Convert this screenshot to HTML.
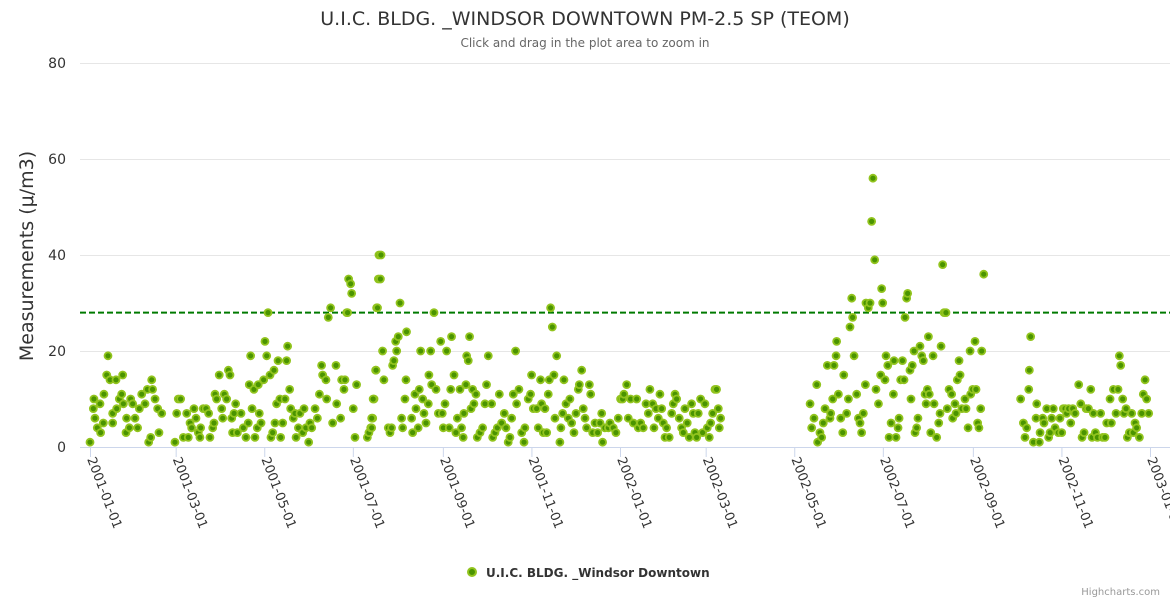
<!DOCTYPE html>
<html><head><meta charset="utf-8"><style>
body{margin:0;background:#fff;width:1170px;height:600px;overflow:hidden;font-family:"DejaVu Sans","Liberation Sans",sans-serif}
</style></head><body>
<svg id="chart" width="1170" height="600" xmlns="http://www.w3.org/2000/svg" font-family="DejaVu Sans, Liberation Sans, sans-serif">
<text x="585" y="25" text-anchor="middle" font-size="19" fill="#333">U.I.C. BLDG. _WINDSOR DOWNTOWN PM-2.5 SP (TEOM)</text>
<text x="585" y="47" text-anchor="middle" font-size="12" fill="#666">Click and drag in the plot area to zoom in</text>
<g id="grid"></g>
<g id="yticks"></g>
<text transform="translate(33,256) rotate(-90)" text-anchor="middle" font-size="19" fill="#333">Measurements (μ/m3)</text>
<line x1="80" y1="447.5" x2="1170" y2="447.5" stroke="#ccd6eb" stroke-width="1"/>
<g id="xticks"></g>
<line id="threshold" stroke="#007a00" stroke-width="2" stroke-dasharray="6,3"/>
<g id="points"></g>
<g>
<circle cx="472" cy="572" r="4" fill="#4a9400" stroke="#92c41e" stroke-width="2"/>
<text x="486" y="577" font-size="12" font-weight="bold" fill="#333">U.I.C. BLDG. _Windsor Downtown</text>
</g>
<text x="1160" y="595" text-anchor="end" font-size="10" fill="#999">Highcharts.com</text>
</svg>
<script>
// days since 2001-01-01
const days = [0,2.3,2.7,3.4,5,6.9,7.3,9.2,9.6,11.5,12.4,13.8,15.6,15.6,17.9,18.4,20.2,21.8,22.5,23,24.8,25.2,27.1,28,29.4,31,32.8,34,35.6,37.9,39.5,40.4,41.8,42.5,43.1,44.8,46.6,47.5,49.4,
58.5,59.7,60.8,62.4,64.3,66.6,67.7,68.9,70,71.6,73,74.6,75.7,76.2,78,79.9,81.7,82.6,84.5,85.4,86.1,87.2,89,90.7,91.4,92.5,94.1,95.3,96.4,97.6,98.2,99.2,100.3,101.5,104,105.6,107.4,109,109.7,110.6,111.6,112.9,113.6,115.2,115.9,116.6,117.8,119.6,120.5,121.7,122.6,124,124.6,125.8,126.7,127.4,128.5,129.5,130.8,131.3,132.7,134.3,135.4,136.1,137.5,138.2,140,141.2,141.9,143.5,144.6,146.5,147.4,148.7,150.6,151.5,152.7,155,156.6,158,159.5,160.2,162.5,163,164.1,165.7,167.1,169.4,169.9,172.6,173.3,174.9,175.6,176.8,177.4,178.1,179.5,180.2,181.3,182.5,183.6,191,192.1,193.3,194.7,195.6,196.7,197.4,198.6,199,
194,194,195,197,198,200,200.4,201.5,202.4,205.4,206.6,207.7,208.4,209.3,210.5,211.2,212.3,213.5,215.3,214.6,216.9,217.6,218,221.5,222.2,223.8,224.5,226,226.8,227.7,229.1,230,231.4,233,233.4,234.6,235.3,236.9,238.3,239.9,241.5,242.6,243.3,244.5,245.6,247.4,248.4,249,250.7,252,253,254.8,255.9,257,257.5,258.9,259.4,260.5,261.4,262.4,263.5,264.4,265.8,266.7,268.6,270.4,272,273.1,274.3,276.6,277.3,278.9,280.5,281.9,283.5,285.3,286.5,288,289.2,290.4,291.5,293.1,293.8,295.4,297.3,298.9,299.5,301.8,303.4,304.1,305.3,307.6,308.7,310.3,311,312.2,313.3,314.5,315.6,316.3,317.2,318.4,319.5,320.2,321.4,323.6,324.3,325.5,326.4,327.8,329.4,330.5,331.7,333.3,334.7,336.3,337,338.6,339.7,340.9,342,343.9,344.8,346.2,347.8,349.6,351.2,352.4,353,354.6,357,358.1,360.4,362.2,363.8,365.4,366.8,367.7,369.6,370.7,372.3,374.2,376.5,377.6,379.2,381,382.9,384.5,385.6,387.5,388.4,389.8,391.4,392.5,393.7,394.8,396,397.1,398.9,400.6,401.7,402.9,404,405.8,407.4,408.6,409.7,411.3,412.7,414.3,415.5,416.6,417.8,418.9,420.5,421.9,423.5,425.1,426.5,427.4,428.8,430.4,431.5,432.7,433.4,434.3,
495.9,497,498.6,500.5,501.1,502.7,503.9,505,506.2,507.8,509.6,510.1,511.5,512.4,513.8,514.2,515.4,517,518.4,519.1,521.1,522.3,523.4,524.6,525.2,526.2,528,529.2,530.3,531.4,532.6,534,534.4,536,537.2,538.3,539.2,540.4,541.3,543,544.5,545.2,545.9,547.5,548.2,549.4,550.3,551.7,553.3,553.7,555.1,556.5,557.2,558.3,559.5,560.6,561.3,562.4,563.1,564.7,565.4,566.3,567.5,568.2,569.3,570.2,571.6,572.8,573.9,575.1,575.8,576.7,578,579,580.6,581.3,577.4,583.1,584.5,585.4,586.1,587.2,588.2,589.5,590.4,591.6,593.4,594.1,595.7,596.4,597.3,598.5,599.2,600.5,602.6,603.3,604.7,606.1,606.5,607.9,609.5,610.2,611.3,612.2,613.4,614.1,615.5,
640.9,642.8,643.9,645.1,646.5,646.9,647.8,649.7,651.5,652,653.8,654.3,656.1,657,658.9,660.2,661.2,662.3,663.4,664.6,666.9,668,669.2,670.3,671.5,672.6,674,675.4,676.8,678.4,680.9,682.3,683.2,684.6,686,687.6,689.2,690.1,691,692.4,693.8,696,697.4,699,700.2,702.5,703.4,704.8,706.6,708,708.9,709.8,711.2,712.1,713.5,714.4,715.8,717.4,718.5,719.7,720.8,722.7,724.3,725.4,726.6,727.7,729.1];
const values = [1,8,10,6,4,9,3,5,11,15,19,14,5,7,14,8,10,11,15,9,3,6,4,10,9,6,4,8,11,9,12,1,2,14,12,10,8,3,7,
1,7,10,10,2,7,2,5,4,8,6,3,2,4,8,8,7,2,4,5,11,10,15,8,6,11,10,16,15,6,3,7,9,3,7,4,2,5,13,19,8,12,2,4,13,7,5,14,22,19,28,15,2,3,16,5,9,18,10,2,5,10,18,21,12,8,6,7,2,4,7,3,8,4,1,5,4,8,6,11,17,15,14,10,27,29,5,17,9,6,14,12,14,28,28,35,34,32,8,2,13,2,3,4,6,10,16,29,35,40,
6,4,10,16,29,35,40,20,14,4,3,4,17,18,22,20,23,30,4,6,10,14,24,6,3,11,8,4,12,20,10,7,5,9,15,20,13,28,12,7,22,7,4,9,20,4,12,23,15,3,6,12,4,2,7,13,19,18,23,8,12,9,11,2,3,4,9,13,19,9,2,3,4,11,5,7,4,1,2,6,11,20,9,12,3,1,4,10,11,15,8,8,4,14,9,3,8,3,11,14,29,25,15,6,19,1,4,7,14,9,6,10,5,3,7,12,13,16,8,6,4,13,11,3,5,3,5,7,1,4,4,5,4,3,6,10,10,11,13,6,10,5,10,4,5,4,9,7,12,9,4,8,6,11,8,5,2,4,2,7,9,11,10,6,4,3,8,5,2,9,7,3,2,7,10,3,9,4,2,5,7,12,12,8,4,6,
9,4,6,13,1,3,2,5,8,17,6,7,10,17,19,22,11,6,3,15,7,10,25,31,27,19,11,6,5,3,7,13,30,29,30,47,56,39,12,9,15,33,30,14,19,17,2,5,11,18,2,4,6,14,18,14,27,31,32,16,10,17,20,3,4,6,21,19,18,11,9,12,11,3,19,9,23,2,5,7,21,38,28,28,8,12,11,6,9,7,14,18,15,8,10,8,4,20,11,12,22,12,5,4,8,20,36,
10,5,2,4,12,16,23,1,6,9,1,3,6,5,8,2,3,6,8,4,3,6,3,8,8,7,8,5,8,7,13,9,2,3,8,8,12,2,7,3,2,7,2,2,5,10,5,12,7,12,19,17,10,7,8,2,3,7,3,5,4,2,7,11,14,10,7];

const X0=0, X1=730, PX0=90, PX1=1150, Y0=0, Y1=80, PY0=447, PY1=63;
const xs = d => PX0 + (d - X0) * (PX1 - PX0) / (X1 - X0);
const ys = v => PY0 - (v - Y0) * (PY0 - PY1) / (Y1 - Y0);
const yTicks = [0,20,40,60,80];
const xTickLabels = ["2001-01-01","2001-03-01","2001-05-01","2001-07-01","2001-09-01","2001-11-01","2002-01-01","2002-03-01","2002-05-01","2002-07-01","2002-09-01","2002-11-01","2003-01-01"];
const xTickDays = [0,59,120,181,243,304,365,424,485,546,608,669,730];
const threshold = [28];
const NS='http://www.w3.org/2000/svg';
function mk(t,a){const e=document.createElementNS(NS,t);for(const k in a)e.setAttribute(k,a[k]);return e;}
const grid=document.getElementById('grid'), yt=document.getElementById('yticks');
yTicks.forEach(v=>{
  if(v>0){const l=mk('line',{x1:80,x2:1170,y1:ys(v)+0.5,y2:ys(v)+0.5,stroke:'#e6e6e6'});
  
  
  grid.appendChild(l);}
  const t=mk('text',{x:66,y:ys(v)+5,'text-anchor':'end','font-size':14,fill:'#333'});
  t.textContent=v;
  
  
  yt.appendChild(t);
});
const xt=document.getElementById('xticks');
xTickDays.forEach((d,i)=>{
  const x=xs(d);
  const l=mk('line',{x1:x+0.5,x2:x+0.5,y1:447,y2:457,stroke:'#ccd6eb'});
  
  
  xt.appendChild(l);
  const t=mk('text',{transform:`translate(${x-3},${459}) rotate(69)`,'font-size':13,fill:'#333'});
  t.textContent=xTickLabels[i];
  
  
  xt.appendChild(t);
});
const th=document.getElementById('threshold');
th.setAttribute('x1',80);th.setAttribute('x2',1170);
th.setAttribute('y1',ys(threshold[0]));th.setAttribute('y2',ys(threshold[0]));
const pg=document.getElementById('points');
days.forEach((d,i)=>{
  const c=mk('circle',{cx:xs(d),cy:ys(values[i]),r:3.5,fill:'#4a9400',stroke:'#92c41e','stroke-width':1.8});
  
  
  pg.appendChild(c);
});
</script>
</body></html>
